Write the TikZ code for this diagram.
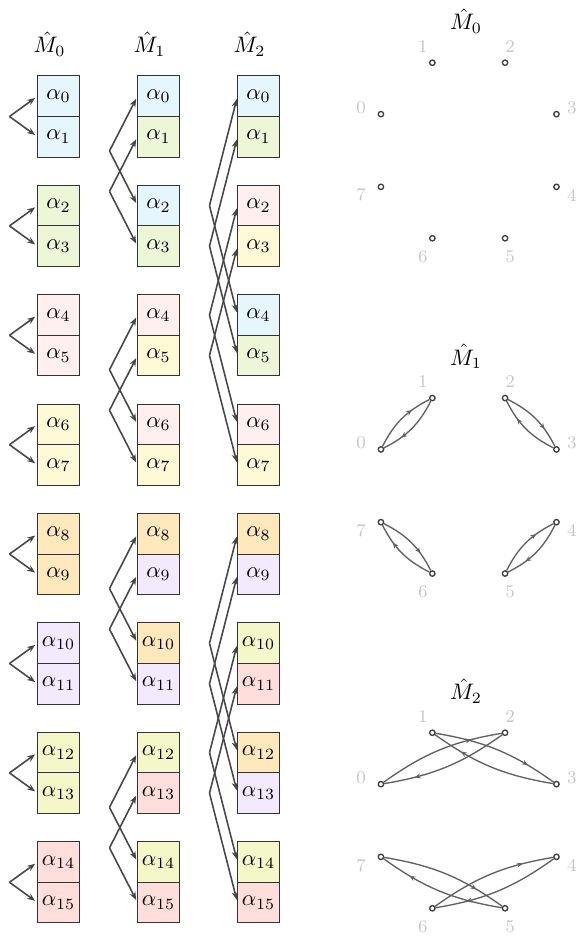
\documentclass[tikz,border=0pt]{standalone}
\usetikzlibrary{arrows.meta,calc,decorations.markings}

\definecolor{c0}{HTML}{E6F6FD}
\definecolor{c1}{HTML}{EEF6D8}
\definecolor{c2}{HTML}{FFF0EF}
\definecolor{c3}{HTML}{FFFAD6}
\definecolor{c4}{HTML}{FFE8BC}
\definecolor{c5}{HTML}{F4EAFE}
\definecolor{c6}{HTML}{F4F8C8}
\definecolor{c7}{HTML}{FFDEDC}

\begin{document}
\begin{tikzpicture}[
  x=0.446pt,y=-0.446pt,
  >={Stealth[length=3.6pt,width=2.8pt]},
  cell/.style={draw=black!80,line width=.45pt,fill=#1,
    minimum width=18.3pt,minimum height=18.1pt,inner sep=0pt},
  link/.style={->,black!72,line width=.7pt,shorten >=1.3pt},
  vtx/.style={circle,draw=black!75,fill=white,line width=.6pt,
    inner sep=0pt,minimum size=2.4pt},
  num/.style={black!22,font=\footnotesize},
  edge/.style={black!62,line width=.6pt,postaction={decorate},
    decoration={markings,mark=at position #1 with
      {\arrow{Stealth[length=2.6pt,width=2.2pt]}}}},
  edge/.default=.7,
]
  \useasboundingbox (0,0) rectangle (577,940);

  % the three stages
  \node (h0) at (49.5,44) {$\hat M_0$};
  \node (h1) at (149.5,44) {$\hat M_1$};
  \node (h2) at (249.5,44) {$\hat M_2$};
  \foreach \i in {0,...,15} {
    \pgfmathtruncatemacro\pa{\i/2}
    \pgfmathtruncatemacro\pb{2*int(\i/4)+mod(\i,2)}
    \pgfmathtruncatemacro\pc{4*int(\i/8)+mod(\i,4)}
    \pgfmathsetmacro\cy{96.25+109.4*\pa+40.5*mod(\i,2)}
    \node[cell=c\pa] (a\i) at (58.5,\cy) {$\alpha_{\i}$};
    \node[cell=c\pb] (b\i) at (158.5,\cy) {$\alpha_{\i}$};
    \node[cell=c\pc] (c\i) at (258.5,\cy) {$\alpha_{\i}$};
  }

  % butterflies
  \foreach \i in {0,2,...,14} {
    \pgfmathtruncatemacro\j{\i+1}
    \coordinate (pa\i) at ($(a\i.west)!.5!(a\j.west)+(-28,0)$);
    \draw[link] (pa\i) -- (a\i.west);
    \draw[link] (pa\i) -- (a\j.west);
  }
  \foreach \g in {0,...,3}
    \foreach \r in {0,1} {
      \pgfmathtruncatemacro\i{4*\g+\r}
      \pgfmathtruncatemacro\j{\i+2}
      \coordinate (pb\i) at ($(b\i.west)!.5!(b\j.west)+(-28,0)$);
      \draw[link] (pb\i) -- (b\i.west);
      \draw[link] (pb\i) -- (b\j.west);
    }
  \foreach \g in {0,1}
    \foreach \r in {0,...,3} {
      \pgfmathtruncatemacro\i{8*\g+\r}
      \pgfmathtruncatemacro\j{\i+4}
      \coordinate (pc\i) at ($(c\i.west)!.5!(c\j.west)+(-28,0)$);
      \draw[link] (pc\i) -- (c\i.west);
      \draw[link] (pc\i) -- (c\j.west);
    }

  % graphs
  \foreach \m/\cy in {0/150.5,1/485.8,2/820.5} {
    \node (t\m) at (466,\cy-129.5) {$\hat M_{\m}$};
    \foreach \k in {0,...,7} {
      \node[vtx] (g\m-\k) at ($(468.7,\cy)+({-157.5+45*\k}:95)$) {};
      \node[num] (l\m-\k) at ($(466.5,\cy+1)+({-157.5+45*\k}:114)$) {\k};
    }
  }
  \foreach \s/\t in {0/1,1/0,2/3,3/2,4/5,5/4,6/7,7/6}
    \draw[edge] (g1-\s) to[bend left=18] (g1-\t);
  \foreach \s/\t in {0/2,2/0,1/3,3/1,4/6,6/4,5/7,7/5}
    \draw[edge=.76] (g2-\s) to[bend left=13] (g2-\t);
\end{tikzpicture}
\end{document}
